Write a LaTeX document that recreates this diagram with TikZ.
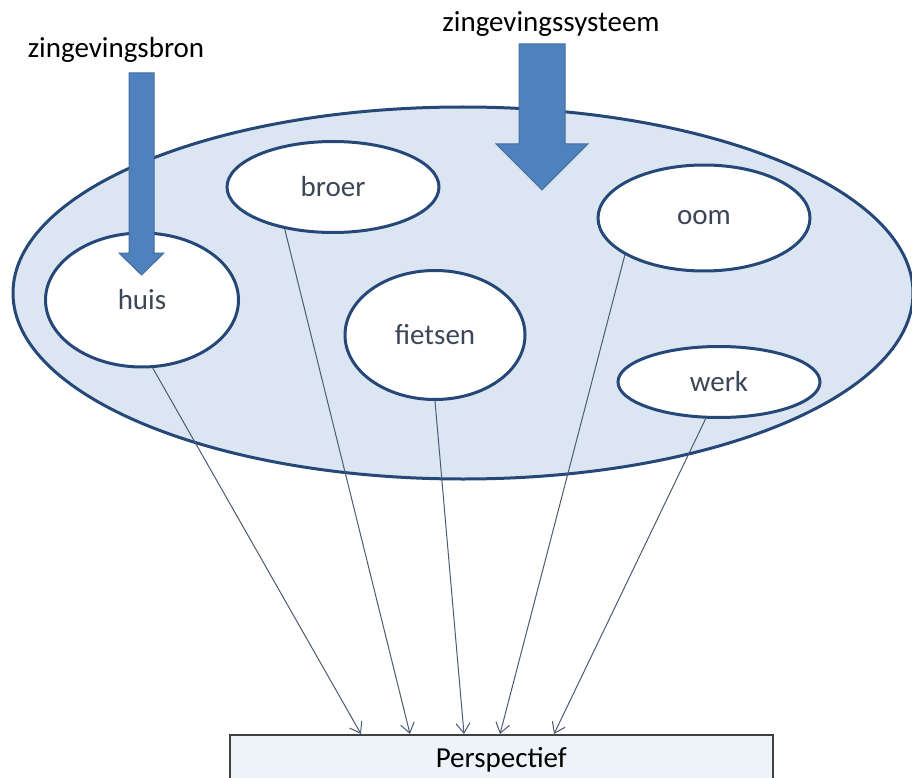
\documentclass[tikz,border=0pt]{standalone}
\usepackage{fontspec}
\setmainfont{Carlito}
\usetikzlibrary{arrows.meta,shapes.geometric}

\definecolor{vlak}{HTML}{DCE6F2}
\definecolor{rand}{HTML}{264878}
\definecolor{pijl}{HTML}{4F81BD}
\definecolor{tekst}{HTML}{3B4656}
\definecolor{lijn}{HTML}{4B5B73}
\definecolor{kader}{HTML}{EEF3F9}

\begin{document}
\begin{tikzpicture}[x=1pt,y=-1pt,
        font=\fontsize{29}{35}\selectfont,
        bol/.style={ellipse,draw=rand,line width=3pt,fill=white,inner sep=0pt,text=tekst},
        blok/.style={fill=pijl,draw=pijl!85!black,line width=1pt},
        dun/.style={color=lijn,line width=1pt,-{Straight Barb[length=10pt,width=14pt]}}]
            \useasboundingbox (0,0) rectangle (912,778);
            % zingevingssysteem
            \node[bol,fill=vlak,minimum width=900pt,minimum height=372pt] (veld) at (463,293) {};
            % zingevingsbronnen
            \node[bol,minimum width=193pt,minimum height=134pt] (huis)    at (142,300) {huis};
            \node[bol,minimum width=212pt,minimum height=91pt]  (broer)   at (333,187) {broer};
            \node[bol,minimum width=180pt,minimum height=129pt] (fietsen) at (435,335) {fietsen};
            \node[bol,minimum width=212pt,minimum height=106pt] (oom)     at (704,218) {oom};
            \node[bol,minimum width=202pt,minimum height=71pt]  (werk)    at (719,382) {werk};
            % blokpijlen
            \draw[blok] (129,73) -- (154,73) -- (154,253) -- (164,253) -- (141.5,275) -- (119,253) -- (129,253) -- cycle;
            \draw[blok] (519,44) -- (565,44) -- (565,144) -- (588,144) -- (542,190) -- (496,144) -- (519,144) -- cycle;
            \node (bron)    at (116,50) {zingevingsbron};
            \node (systeem) at (551,24) {zingevingssysteem};
            % perspectief
            \node[draw=black!75,line width=1.5pt,fill=kader,minimum width=543pt,minimum height=50pt,anchor=north west] (persp) at (229,734) {Perspectief};
            \path[dun]
                (huis.-81)
                    edge ([xshift=132pt]persp.north west)
                (broer.-139)
                    edge ([xshift=181pt]persp.north west)
                (fietsen.south)
                    edge ([xshift=235pt]persp.north west)
                (oom.-155)
                    edge ([xshift=271pt]persp.north west)
                (werk.-110)
                    edge ([xshift=325pt]persp.north west);
        \end{tikzpicture}
\end{document}
